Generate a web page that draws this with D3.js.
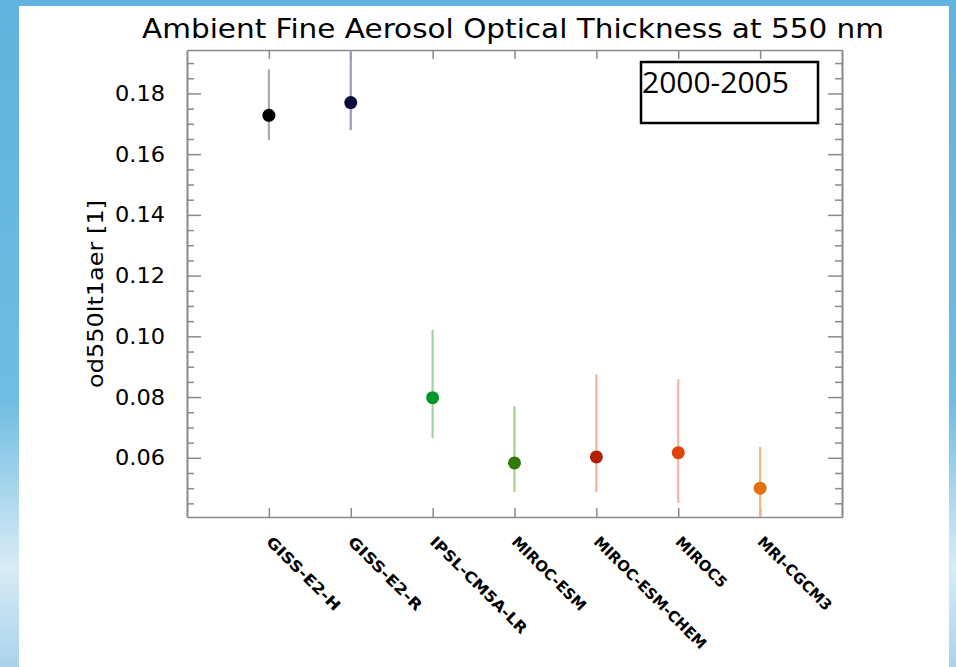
<!DOCTYPE html>
<html>

<head>
    <meta charset="UTF-8">
    <title>od550lt1aer</title>
    <style>
        body { margin: 0; }
        svg { display: block; }
    </style>
</head>

<body>
    <script src="https://cdn.jsdelivr.net/npm/d3@7"></script>

    <svg width="956" height="667"></svg>

    <script>
        // data
        const models = ["GISS-E2-H", "GISS-E2-R", "IPSL-CM5A-LR", "MIROC-ESM", "MIROC-ESM-CHEM", "MIROC5", "MRI-CGCM3"];
        const means = [0.1728, 0.1770, 0.0798, 0.0583, 0.0603, 0.0617, 0.0500];
        const lows = [0.1646, 0.1679, 0.0665, 0.0487, 0.0487, 0.0451, 0.0390];
        const highs = [0.1879, 0.2000, 0.1022, 0.0770, 0.0874, 0.0859, 0.0636];
        const dotColors = ["#000000", "#0b0b3e", "#00962a", "#2f7c0c", "#b22000", "#e04204", "#e2700e"];
        const barColors = ["#aaaaaa", "#9a9ac0", "#9fd69f", "#a9d28e", "#f2b0a0", "#f6b49a", "#f8b478"];
        const majorTicks = [0.06, 0.08, 0.10, 0.12, 0.14, 0.16, 0.18];
        const minorTicks = [0.045, 0.05, 0.055, 0.065, 0.07, 0.075, 0.085, 0.09, 0.095, 0.105, 0.11, 0.115,
            0.125, 0.13, 0.135, 0.145, 0.15, 0.155, 0.165, 0.17, 0.175, 0.185, 0.19];

        const svg = d3.select("svg");
        const W = 956, H = 667;
        const plotL = 187, plotR = 842, plotT = 50, plotB = 517;
        const axisCol = "#8a8a8a";

        // background: blue frame with white slide
        const defs = svg.append("defs");
        const grad = defs.append("linearGradient")
            .attr("id", "bg").attr("x1", 0).attr("y1", 0).attr("x2", 0).attr("y2", 1);
        grad.append("stop").attr("offset", "0").attr("stop-color", "#5fb3dc");
        grad.append("stop").attr("offset", "0.6").attr("stop-color", "#6fbde2");
        grad.append("stop").attr("offset", "0.85").attr("stop-color", "#d8ebf6");
        grad.append("stop").attr("offset", "1").attr("stop-color", "#a9d3ec");
        svg.append("rect").attr("width", W).attr("height", H).attr("fill", "url(#bg)");
        svg.append("rect").attr("x", 19).attr("y", 6).attr("width", 930).attr("height", H - 6).attr("fill", "#fff");

        defs.append("clipPath").attr("id", "plotclip")
            .append("rect").attr("x", plotL).attr("y", plotT).attr("width", plotR - plotL).attr("height", plotB - plotT);

        const x = d3.scaleLinear().domain([0, models.length + 1]).range([plotL, plotR]);
        const y = d3.scaleLinear().domain([0.0405, 0.1943]).range([plotB, plotT]);
        const idx = d3.range(1, models.length + 1);

        // axes
        const styleAxis = g => {
            g.select(".domain").attr("stroke", axisCol).attr("stroke-width", 1.6);
            g.selectAll(".tick line").attr("stroke", axisCol).attr("stroke-width", 1.5);
        };

        svg.append("g").attr("transform", `translate(${plotL},0)`)
            .call(d3.axisLeft(y).tickValues(majorTicks).tickSize(-14).tickSizeOuter(0).tickPadding(22).tickFormat(d3.format(".2f")))
            .call(styleAxis)
            .call(g => g.selectAll("text")
                .attr("font-family", "DejaVu Sans").attr("font-size", 22).attr("fill", "#000")
                .attr("textLength", 50).attr("lengthAdjust", "spacingAndGlyphs"));
        svg.append("g").attr("transform", `translate(${plotL},0)`)
            .call(d3.axisLeft(y).tickValues(minorTicks).tickSize(-7).tickSizeOuter(0).tickFormat(""))
            .call(styleAxis);

        svg.append("g").attr("transform", `translate(${plotR},0)`)
            .call(d3.axisRight(y).tickValues(majorTicks).tickSize(-14).tickSizeOuter(0).tickFormat(""))
            .call(styleAxis);
        svg.append("g").attr("transform", `translate(${plotR},0)`)
            .call(d3.axisRight(y).tickValues(minorTicks).tickSize(-7).tickSizeOuter(0).tickFormat(""))
            .call(styleAxis);

        svg.append("g").attr("transform", `translate(0,${plotT})`)
            .call(d3.axisTop(x).tickValues(idx).tickSize(-9).tickSizeOuter(0).tickFormat(""))
            .call(styleAxis);
        svg.append("g").attr("transform", `translate(0,${plotB})`)
            .call(d3.axisBottom(x).tickValues(idx).tickSize(-9).tickSizeOuter(0).tickFormat(""))
            .call(styleAxis);

        // x labels, slanted
        svg.append("g").selectAll("text")
            .data(models)
            .join("text")
            .attr("transform", (d, i) => `translate(${x(i + 1) + 4},${plotB + 18}) rotate(45)`)
            .attr("dy", "0.72em")
            .attr("font-family", "DejaVu Sans")
            .attr("font-weight", "bold")
            .attr("font-size", 15)
            .attr("textLength", d => d.length * 10.85)
            .attr("lengthAdjust", "spacingAndGlyphs")
            .text(d => d);

        // error bars and means
        const marks = svg.append("g").attr("clip-path", "url(#plotclip)");
        marks.selectAll("line.err")
            .data(models)
            .join("line")
            .attr("class", "err")
            .attr("x1", (d, i) => x(i + 1)).attr("x2", (d, i) => x(i + 1))
            .attr("y1", (d, i) => y(lows[i])).attr("y2", (d, i) => y(highs[i]))
            .attr("stroke", (d, i) => barColors[i])
            .attr("stroke-width", 2.2);
        marks.selectAll("circle")
            .data(models)
            .join("circle")
            .attr("cx", (d, i) => x(i + 1))
            .attr("cy", (d, i) => y(means[i]))
            .attr("r", 6.5)
            .attr("fill", (d, i) => dotColors[i]);

        // title + y label
        svg.append("text")
            .attr("x", 513).attr("y", 38)
            .attr("text-anchor", "middle")
            .attr("font-family", "DejaVu Sans").attr("font-size", 27)
            .attr("textLength", 742).attr("lengthAdjust", "spacingAndGlyphs")
            .text("Ambient Fine Aerosol Optical Thickness at 550 nm");

        svg.append("text")
            .attr("transform", "translate(103,294) rotate(-90)")
            .attr("text-anchor", "middle")
            .attr("font-family", "DejaVu Sans").attr("font-size", 21)
            .attr("textLength", 188).attr("lengthAdjust", "spacingAndGlyphs")
            .text("od550lt1aer [1]");

        // period box
        svg.append("rect")
            .attr("x", 641).attr("y", 62).attr("width", 177).attr("height", 61)
            .attr("fill", "#fff").attr("stroke", "#000").attr("stroke-width", 2.5);
        svg.append("text")
            .attr("x", 642).attr("y", 93)
            .attr("font-family", "Open Sans").attr("font-size", 30)
            .text("2000-2005");
    </script>

</body>

</html>
